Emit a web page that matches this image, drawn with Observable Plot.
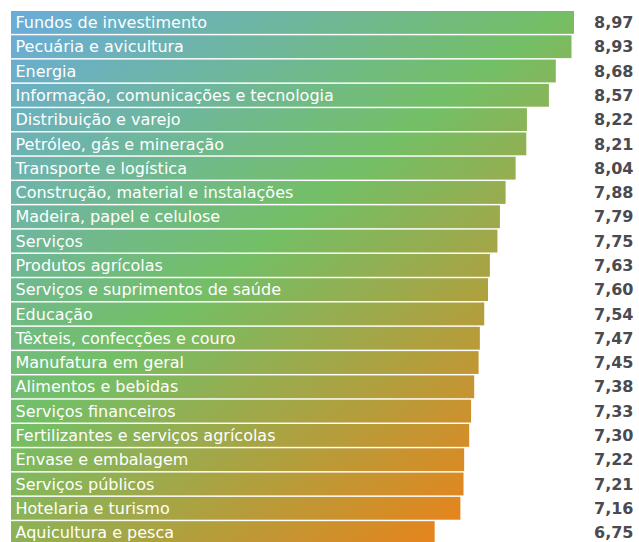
<!DOCTYPE html>
<html>
<head>
<meta charset="utf-8">
<script src="https://cdn.jsdelivr.net/npm/d3@7"></script>
<script src="https://cdn.jsdelivr.net/npm/@observablehq/plot@0.6"></script>
<style>
  html, body { margin: 0; padding: 0; background: #fff; }
  #chart svg { display: block; }
</style>
</head>
<body>
<div id="chart"></div>
<script>
const sectors = [
  "Fundos de investimento",
  "Pecuária e avicultura",
  "Energia",
  "Informação, comunicações e tecnologia",
  "Distribuição e varejo",
  "Petróleo, gás e mineração",
  "Transporte e logística",
  "Construção, material e instalações",
  "Madeira, papel e celulose",
  "Serviços",
  "Produtos agrícolas",
  "Serviços e suprimentos de saúde",
  "Educação",
  "Têxteis, confecções e couro",
  "Manufatura em geral",
  "Alimentos e bebidas",
  "Serviços financeiros",
  "Fertilizantes e serviços agrícolas",
  "Envase e embalagem",
  "Serviços públicos",
  "Hotelaria e turismo",
  "Aquicultura e pesca"
];
const scores = [8.97, 8.93, 8.68, 8.57, 8.22, 8.21, 8.04, 7.88, 7.79, 7.75, 7.63, 7.60, 7.54, 7.47, 7.45, 7.38, 7.33, 7.30, 7.22, 7.21, 7.16, 6.75];
const gradientColors = ["#69acdc", "#73bf66", "#e4851d"];

const data = sectors.map((name, i) => ({name, value: scores[i]}));
const fmt = v => d3.format(".2f")(v).replace(".", ",");

const gradientDefs = (index, scales, values, dims) => {
  const ns = "http://www.w3.org/2000/svg";
  const defs = document.createElementNS(ns, "defs");
  const lg = document.createElementNS(ns, "linearGradient");
  lg.setAttribute("id", "barGrad");
  lg.setAttribute("gradientUnits", "userSpaceOnUse");
  const x0 = dims.marginLeft, y0 = dims.marginTop;
  const w = dims.width - dims.marginLeft - dims.marginRight;
  const y1 = dims.height - dims.marginBottom;
  lg.setAttribute("x1", x0);
  lg.setAttribute("y1", y0);
  lg.setAttribute("x2", x0 + 0.73 * w);
  lg.setAttribute("y2", y1);
  gradientColors.forEach((c, i) => {
    const s = document.createElementNS(ns, "stop");
    s.setAttribute("offset", i / (gradientColors.length - 1));
    s.setAttribute("stop-color", c);
    lg.appendChild(s);
  });
  defs.appendChild(lg);
  return defs;
};

const chart = Plot.plot({
  width: 639,
  height: 542,
  marginLeft: 11,
  marginRight: 65,
  marginTop: 11,
  marginBottom: -2,
  style: {background: "#fff"},
  x: {domain: [0, d3.max(scores)], axis: null},
  y: {domain: sectors, axis: null, paddingInner: 0.06, paddingOuter: 0, round: false},
  marks: [
    gradientDefs,
    Plot.barX(data, {x: "value", y: "name", fill: "url(#barGrad)"}),
    Plot.text(data, {
      x: 0, y: "name", text: "name", textAnchor: "start", dx: 4, dy: 0,
      fill: "#fff", fontSize: 16, fontFamily: "DejaVu Sans"
    }),
    Plot.text(data, {
      y: "name", text: d => fmt(d.value), frameAnchor: "right", textAnchor: "end", dx: 59,
      fill: "#4a4a50", fontSize: 16, fontWeight: "bold", fontFamily: "DejaVu Sans"
    })
  ]
});
document.getElementById("chart").appendChild(chart);
</script>
</body>
</html>
